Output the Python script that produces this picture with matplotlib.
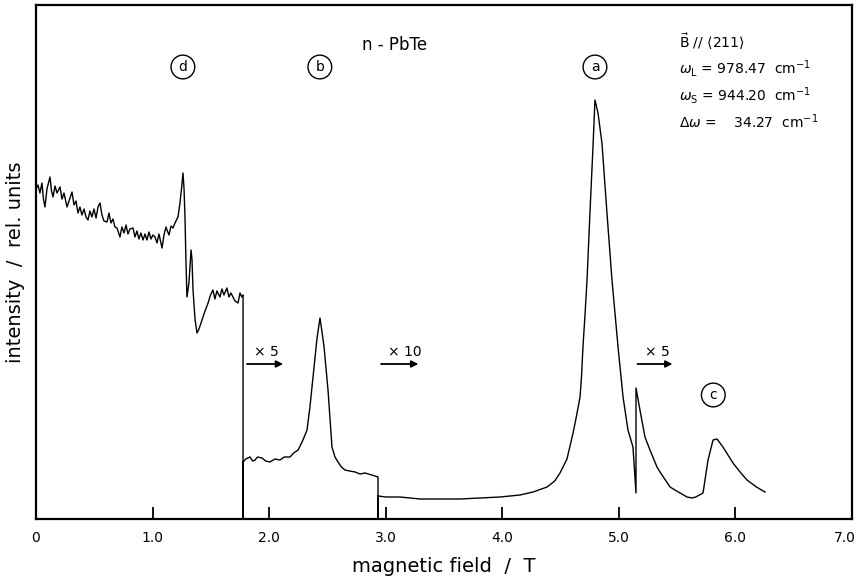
import matplotlib
matplotlib.use("Agg")
import matplotlib.pyplot as plt
import matplotlib.transforms as mtransforms
import numpy as np

# trace, field in T, signal in rel. units
seg_a_field = [0.0, 0.017, 0.034, 0.051, 0.064, 0.077, 0.094, 0.12, 0.133, 0.146,
               0.163, 0.18, 0.206, 0.223, 0.24, 0.266, 0.283, 0.309, 0.326, 0.343,
               0.36, 0.377, 0.394, 0.412, 0.429, 0.446, 0.463, 0.48, 0.497, 0.515,
               0.532, 0.549, 0.566, 0.583, 0.609, 0.626, 0.643, 0.66, 0.677, 0.695,
               0.72, 0.737, 0.755, 0.772, 0.789, 0.806, 0.832, 0.849, 0.866, 0.883,
               0.9, 0.918, 0.935, 0.952, 0.969, 0.986, 1.003, 1.021, 1.038, 1.055,
               1.081, 1.098, 1.115, 1.124, 1.141, 1.158, 1.175, 1.192, 1.209, 1.218,
               1.235, 1.248, 1.261, 1.27, 1.278, 1.286, 1.295, 1.312, 1.33, 1.338,
               1.347, 1.364, 1.381, 1.398, 1.424, 1.45, 1.476, 1.497, 1.518, 1.535,
               1.552, 1.578, 1.595, 1.612, 1.638, 1.655, 1.672, 1.69, 1.707, 1.733,
               1.75, 1.765, 1.776]
seg_a_signal = [330, 334, 326, 336, 320, 312, 330, 342, 328, 322,
                333, 326, 332, 320, 326, 312, 318, 327, 314, 318,
                306, 312, 304, 310, 302, 299, 308, 302, 310, 301,
                312, 316, 304, 298, 297, 306, 296, 300, 292, 291,
                282, 292, 286, 294, 285, 290, 291, 282, 288, 280,
                286, 279, 285, 279, 287, 280, 284, 282, 276, 285,
                271, 284, 292, 289, 284, 293, 291, 296, 300, 302,
                316, 330, 346, 330, 302, 260, 222, 236, 269, 260,
                229, 200, 186, 190, 199, 208, 216, 224, 229, 220,
                228, 222, 230, 224, 231, 222, 226, 222, 218, 216,
                226, 222, 224]

seg_b_field = [1.776, 1.80, 1.836, 1.858, 1.879, 1.90, 1.939, 1.97, 2.007, 2.05,
               2.093, 2.13, 2.179, 2.21, 2.248, 2.27, 2.29, 2.325, 2.35, 2.385,
               2.41, 2.436, 2.45, 2.471, 2.505, 2.539, 2.565, 2.591, 2.62, 2.651,
               2.69, 2.737, 2.78, 2.822, 2.88, 2.934]
seg_b_signal = [57, 60, 62, 58, 59, 62, 61, 58, 57, 60,
                59, 62, 62, 66, 69, 74, 79, 89, 112, 152,
                180, 201, 190, 172, 129, 72, 62, 57, 52, 49,
                48, 47, 45, 46, 44, 42]

seg_c_field = [2.934, 3.0, 3.123, 3.294, 3.466, 3.637, 3.809, 3.98, 4.152, 4.264,
               4.384, 4.45, 4.495, 4.555, 4.607, 4.635, 4.667, 4.68, 4.692, 4.71,
               4.727, 4.752, 4.778, 4.795, 4.821, 4.855, 4.898, 4.941, 4.993, 5.036,
               5.078, 5.121, 5.147]
seg_c_signal = [23, 22, 22, 20, 20, 20, 21, 22, 24, 27,
                32, 38, 46, 60, 86, 102, 122, 143, 172, 205,
                239, 306, 372, 419, 406, 376, 306, 239, 172, 122,
                89, 72, 26]

seg_d_field = [5.147, 5.181, 5.224, 5.267, 5.327, 5.353, 5.439, 5.51, 5.585, 5.628,
               5.66, 5.722, 5.765, 5.808, 5.842, 5.893, 5.979, 6.04, 6.099, 6.18,
               6.254]
seg_d_signal = [131, 109, 82, 69, 52, 47, 32, 27, 22, 21,
                22, 26, 59, 79, 80, 72, 56, 47, 39, 32,
                27]

tick_pos = [0, 1, 2, 3, 4, 5, 6, 7]
tick_lbl = ['0', '1.0', '2.0', '3.0', '4.0', '5.0', '6.0', '7.0']

# peak letters: (label, field, signal)
peak_marks = [('d', 1.26, 452), ('b', 2.435, 452), ('a', 4.795, 452), ('c', 5.81, 124)]
# gain changes: (label, start field, end field)
gain_marks = [('× 5', 1.81, 2.12), ('× 10', 2.96, 3.28), ('× 5', 5.16, 5.46)]

# join the pieces, the pen drops to the baseline at the first two gain changes
x = seg_a_field + [seg_a_field[-1]] + seg_b_field + [seg_b_field[-1]] + seg_c_field + seg_d_field
y = seg_a_signal + [0] + seg_b_signal + [0] + seg_c_signal + seg_d_signal

plt.rcParams['mathtext.fontset'] = 'dejavusans'
fig = plt.figure(figsize=(8.57, 5.83), dpi=100)
ax = fig.add_axes([36/857, 1-519/583, (852-36)/857, (519-5)/583])

ax.plot(x, y, color='black', lw=1.0)
ax.set_xlim(0, 7)
ax.set_ylim(0, 514)

ax.set_xticks(tick_pos)
ax.set_xticklabels(tick_lbl, fontsize=10)
ax.set_yticks([])
ax.tick_params(axis='x', direction='in', length=9, width=1.3, pad=9)
for s in ax.spines.values():
    s.set_linewidth(1.6)

# last label sits on the right edge, keep it inside the picture
last = ax.get_xticklabels()[-1]
last.set_horizontalalignment('right')
last.set_transform(last.get_transform() + mtransforms.ScaledTranslation(4/100, 0, fig.dpi_scale_trans))

for lbl, fx, sy in peak_marks:
    ax.text(fx, sy, lbl, ha='center', va='center', fontsize=10,
            bbox=dict(boxstyle='circle,pad=0.35', fc='white', ec='black', lw=1.0))

for lbl, x0, x1 in gain_marks:
    ax.annotate('', xy=(x1, 155), xytext=(x0, 155),
                arrowprops=dict(arrowstyle='-|>', lw=1.3, color='black',
                                mutation_scale=10, shrinkA=0, shrinkB=0))
    ax.text(x0 + 0.06, 160, lbl, ha='left', va='bottom', fontsize=10)

ax.text(2.80, 474, 'n - PbTe', ha='left', va='center', fontsize=12)

tx = 5.52
ax.text(tx, 477, r'$\vec{\mathrm{B}}$ // $\langle$211$\rangle$', ha='left', va='center', fontsize=10)
ax.text(tx, 451, r'$\omega_\mathrm{L}$ = 978.47  cm$^{-1}$', ha='left', va='center', fontsize=10)
ax.text(tx, 424, r'$\omega_\mathrm{S}$ = 944.20  cm$^{-1}$', ha='left', va='center', fontsize=10)
ax.text(tx, 397, r'$\Delta\omega$ =    34.27  cm$^{-1}$', ha='left', va='center', fontsize=10)

fig.text(444/857, 1-566/583, 'magnetic field  /  T', ha='center', va='center', fontsize=14)
fig.text(16/857, 1-262/583, 'intensity  /  rel. units', ha='center', va='center',
         rotation=90, fontsize=14)

fig.savefig('out.png', dpi=100)
